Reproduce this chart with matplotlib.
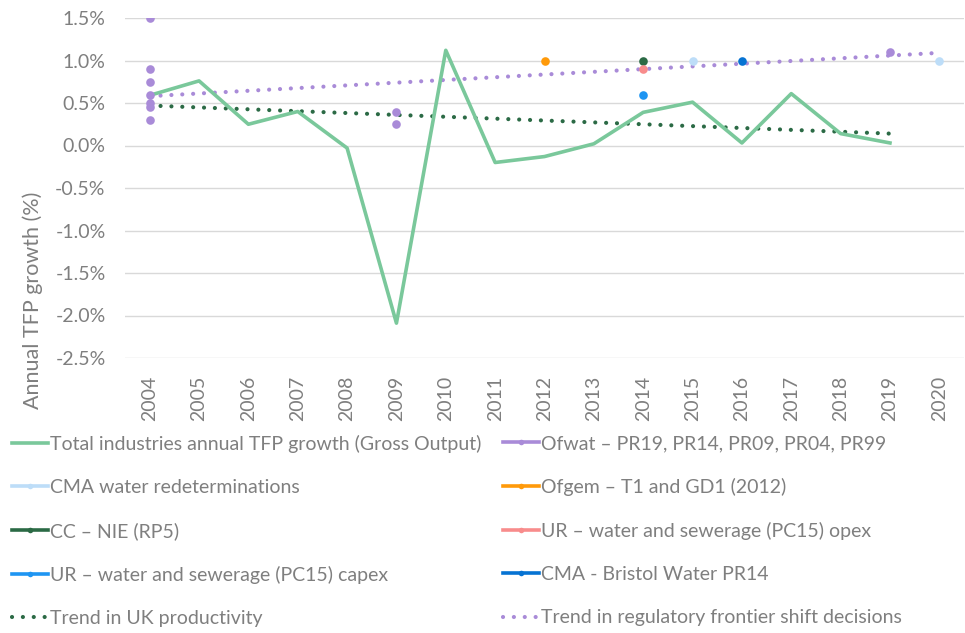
import matplotlib
matplotlib.use("Agg")
import matplotlib.pyplot as plt
from matplotlib.lines import Line2D
from matplotlib.ticker import FuncFormatter

plt.rcParams['font.family'] = ['Lato', 'DejaVu Sans']

years = [str(y) for y in range(2004, 2021)]

# Total industries annual TFP growth (Gross Output), 2004-2019
tfp_years = list(range(2004, 2020))
tfp_vals = [0.59, 0.76, 0.25, 0.40, -0.03, -2.09, 1.12, -0.20, -0.13, 0.02,
            0.39, 0.51, 0.03, 0.61, 0.14, 0.03]

# regulatory decisions
ofwat_years = [2004, 2004, 2004, 2004, 2004, 2004, 2004, 2009, 2009, 2019]
ofwat_vals = [1.5, 0.9, 0.75, 0.6, 0.5, 0.45, 0.3, 0.39, 0.25, 1.1]
cma_water_years = [2015, 2020]
cma_water_vals = [1.0, 1.0]
ofgem_years = [2012]
ofgem_vals = [1.0]
cc_nie_years = [2014]
cc_nie_vals = [1.0]
ur_opex_years = [2014]
ur_opex_vals = [0.9]
ur_capex_years = [2014]
ur_capex_vals = [0.6]
bristol_years = [2016]
bristol_vals = [1.0]

# trend lines (end points)
uk_trend_years = [2004, 2019]
uk_trend_vals = [0.47, 0.14]
reg_trend_years = [2004, 2020]
reg_trend_vals = [0.58, 1.09]

c_tfp = '#7AC89B'
c_ofwat = '#A98BD8'
c_cmaw = '#BDDDF8'
c_ofgem = '#FF9A0A'
c_ccnie = '#2B6A45'
c_uropex = '#F88C8C'
c_urcapex = '#1E95F2'
c_bristol = '#0673D3'
c_text = '#7F7F7F'
fs = 14

def xpos(yrs):
    return [y - 2004 for y in yrs]

fig = plt.figure(figsize=(9.65, 6.33), dpi=100)
ax = fig.add_axes([125 / 965, 1 - 358 / 633, 839 / 965, 340 / 633])

dots = (0, (0.01, 2.6))
ax.plot(xpos(uk_trend_years), uk_trend_vals, color=c_ccnie, lw=3.0,
        linestyle=dots, dash_capstyle='round', zorder=3)
ax.plot(xpos(reg_trend_years), reg_trend_vals, color=c_ofwat, lw=3.0,
        linestyle=dots, dash_capstyle='round', zorder=3)
ax.plot(xpos(tfp_years), tfp_vals, color=c_tfp, lw=2.6, zorder=4)

ms = 6.2
ax.plot(xpos(ofwat_years), ofwat_vals, 'o', color=c_ofwat, ms=ms, mew=0, zorder=5)
ax.plot(xpos(cma_water_years), cma_water_vals, 'o', color=c_cmaw, ms=ms, mew=0, zorder=5)
ax.plot(xpos(ofgem_years), ofgem_vals, 'o', color=c_ofgem, ms=ms, mew=0, zorder=5)
ax.plot(xpos(cc_nie_years), cc_nie_vals, 'o', color=c_ccnie, ms=ms, mew=0, zorder=5)
ax.plot(xpos(ur_opex_years), ur_opex_vals, 'o', color=c_uropex, ms=ms, mew=0, zorder=5)
ax.plot(xpos(ur_capex_years), ur_capex_vals, 'o', color=c_urcapex, ms=ms, mew=0, zorder=5)
ax.plot(xpos(bristol_years), bristol_vals, 'o', color=c_bristol, ms=ms, mew=0, zorder=5)

ax.set_xlim(-0.5, len(years) - 0.5)
ax.set_ylim(-2.5, 1.5)
ax.set_yticks([1.5, 1.0, 0.5, 0.0, -0.5, -1.0, -1.5, -2.0, -2.5])
ax.yaxis.set_major_formatter(FuncFormatter(lambda v, p: f'{v:.1f}%'))
ax.set_xticks(range(len(years)))
ax.set_xticklabels(years, rotation=90)
ax.grid(axis='y', color='#D9D9D9', lw=1)
ax.set_axisbelow(True)
for s in ax.spines.values():
    s.set_visible(False)
ax.tick_params(length=0, labelsize=fs, colors=c_text)
ax.tick_params(axis='x', pad=13)
ax.tick_params(axis='y', pad=14)

fig.text(33 / 965, 1 - 300 / 633, 'Annual TFP growth (%)', rotation=90,
         ha='center', va='center', fontsize=15.5, color=c_text)

def h(color, marker=True, dotted=False):
    if dotted:
        return Line2D([], [], color=color, lw=3.0, linestyle=dots, dash_capstyle='round')
    if marker:
        return Line2D([], [], color=color, lw=2.6, marker='o', ms=4, mew=0)
    return Line2D([], [], color=color, lw=2.6)

left_h = [h(c_tfp, marker=False), h(c_cmaw), h(c_ccnie), h(c_urcapex), h(c_ccnie, dotted=True)]
left_l = ['Total industries annual TFP growth (Gross Output)', 'CMA water redeterminations',
          'CC – NIE (RP5)', 'UR – water and sewerage (PC15) capex', 'Trend in UK productivity']
right_h = [h(c_ofwat), h(c_ofgem), h(c_uropex), h(c_bristol), h(c_ofwat, dotted=True)]
right_l = ['Ofwat – PR19, PR14, PR09, PR04, PR99', 'Ofgem – T1 and GD1 (2012)',
           'UR – water and sewerage (PC15) opex', 'CMA - Bristol Water PR14',
           'Trend in regulatory frontier shift decisions']

for hs, ls, x0 in [(left_h, left_l, 12), (right_h, right_l, 503)]:
    leg = fig.legend(hs, ls, loc='upper left', bbox_to_anchor=(x0 / 965, 1 - 435 / 633),
                     frameon=False, fontsize=fs, borderpad=0, borderaxespad=0,
                     handlelength=1.85, handletextpad=0.1, labelspacing=1.34,
                     labelcolor=c_text)

fig.savefig('out.png', dpi=100)
